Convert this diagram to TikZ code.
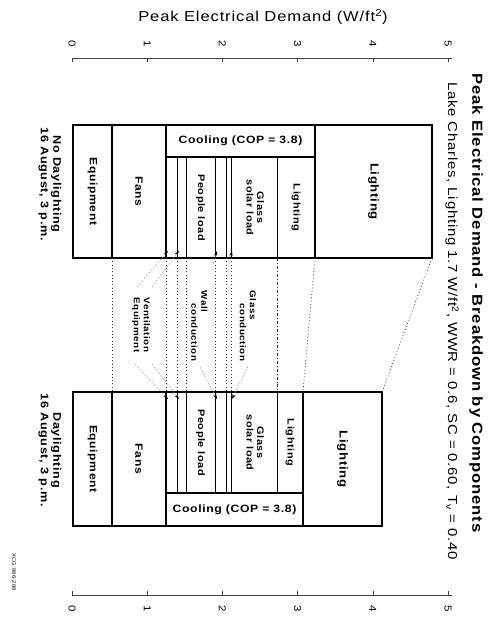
\documentclass[tikz,border=0pt]{standalone}
\usepackage{fontspec}
\setmainfont{Liberation Sans}[FakeStretch=1.15,LetterSpace=6]
\usetikzlibrary{arrows.meta}
\newcommand\rtxt[1]{\rotatebox[origin=c]{-90}{#1}}
\newcommand\fbig{\fontsize{10.5}{12}\selectfont\bfseries}
\newcommand\fmid{\fontsize{9.5}{10.5}\selectfont\bfseries}
\newcommand\fcool{\fontsize{10.6}{12}\selectfont\bfseries}
\newcommand\flt{\fontsize{11.5}{13}\selectfont\bfseries}
\newcommand\flab{\fontsize{8.5}{10}\selectfont\bfseries}
\newcommand\fbar{\fontsize{11}{12.5}\selectfont\bfseries}
\newcommand\fnum{\fontsize{10}{12}\selectfont}
\newcommand\ftitle{\fontsize{14.5}{16}\selectfont\bfseries}
\newcommand\fsub{\fontsize{13}{15}\selectfont}
\newcommand\faxt{\fontsize{14.4}{16}\selectfont}
\newcommand\segbox[7]{%
  \node[segbase,#6,minimum width={(#4-#2)*1pt},minimum height={(#5-#3)*1pt}]
    (#1) at ({(#2+#4)/2},{(#3+#5)/2}) {#7};}
\tikzset{
  segbase/.style={draw, line width=0.7pt, inner sep=0pt, outer sep=0pt},
  heavy/.style={line width=1.2pt},
  frame/.style={line width=1.4pt},
  conn/.style={line width=0.7pt, dash pattern=on 0.9pt off 2.4pt, black!80},
  conndd/.style={line width=0.7pt, dash pattern=on 3pt off 2pt on 0.9pt off 2pt, black!80},
  leader/.style={line width=0.45pt, black!40, dash pattern=on 2pt off 1.5pt,
    -{Stealth[length=5pt,width=3.2pt,black]}},
  rotlabel/.style={rotate=-90, inner sep=0pt},
  axisline/.style={line width=0.6pt, black!75},
}
\begin{document}
\begin{tikzpicture}[x=1pt,y=-1pt]
\useasboundingbox (0,0) rectangle (490,618);

% axis title and axes
\node[font=\faxt] (axtitle) at (263,17) {Peak Electrical Demand (W/ft\textsuperscript{2})};
\draw[axisline] (72,58) -- (452,58);
\draw[axisline] (72,595) -- (452,595);
\foreach \i in {0,...,5}{
  \draw[axisline] ({72+75.2*\i},58) -- ++(0,4);
  \draw[axisline] ({72+75.2*\i},595) -- ++(0,-4);
  \node[rotlabel,font=\fnum] (tt\i) at ({72+75.2*\i},44) {\i};
  \node[rotlabel,font=\fnum] (bt\i) at ({72+75.2*\i},609) {\i};
}

% titles
\node[rotlabel,font=\ftitle] (title) at (476,303) {Peak Electrical Demand - Breakdown by Components};
\node[rotlabel,font=\fsub] (subtitle) at (452,321)
  {Lake Charles, Lighting 1.7 W/ft\textsuperscript{2}, WWR = 0.6, SC = 0.60, T\textsubscript{v} = 0.40};

% top bar (No Daylighting)
\segbox{tVE}{166}{157}{177}{258}{}{}
\segbox{tVV}{177}{157}{186}{258}{}{}
\segbox{tPpl}{186}{157}{215}{258}{}{\rtxt{\fmid People load}}
\segbox{tWall}{215}{157}{226}{258}{}{}
\segbox{tGC}{226}{157}{231}{258}{}{}
\segbox{tGS}{231}{157}{277}{258}{}{\rtxt{\fmid\begin{tabular}{@{}c@{}}Glass\\solar load\end{tabular}}}
\segbox{tLc}{277}{157}{315}{258}{}{\rtxt{\fmid Lighting}}
\segbox{tEq}{73}{125}{112}{258}{heavy}{\rtxt{\fbig Equipment}}
\segbox{tFan}{112}{125}{166}{258}{heavy}{\rtxt{\fbig Fans}}
\segbox{tCool}{166}{125}{315}{157}{heavy}{\fcool Cooling (COP = 3.8)}
\segbox{tLt}{315}{125}{432}{258}{heavy}{\rtxt{\flt Lighting}}
\draw[frame] (tEq.north west) rectangle (tLt.south east);

% bottom bar (Daylighting)
\segbox{bVE}{166}{392}{177}{493}{}{}
\segbox{bVV}{177}{392}{186}{493}{}{}
\segbox{bPpl}{186}{392}{215}{493}{}{\rtxt{\fmid People load}}
\segbox{bWall}{215}{392}{226}{493}{}{}
\segbox{bGC}{226}{392}{231}{493}{}{}
\segbox{bGS}{231}{392}{277}{493}{}{\rtxt{\fmid\begin{tabular}{@{}c@{}}Glass\\solar load\end{tabular}}}
\segbox{bLc}{277}{392}{303}{493}{}{\rtxt{\fmid Lighting}}
\segbox{bEq}{73}{392}{112}{526}{heavy}{\rtxt{\fbig Equipment}}
\segbox{bFan}{112}{392}{166}{526}{heavy}{\rtxt{\fbig Fans}}
\segbox{bCool}{166}{493}{303}{526}{heavy}{\fcool Cooling (COP = 3.8)}
\segbox{bLt}{303}{392}{382}{526}{heavy}{\rtxt{\flt Lighting}}
\draw[frame] (bEq.north west) rectangle (bLt.south east);

% dotted correspondences
\draw[conn] (tEq.south east) -- (bEq.north east);
\draw[conn] (tFan.south east) -- (bFan.north east);
\draw[conn] (tVE.south east) -- (bVE.north east);
\draw[conn] (tVV.south east) -- (bVV.north east);
\draw[conn] (tPpl.south east) -- (bPpl.north east);
\draw[conn] (tWall.south east) -- (bWall.north east);
\draw[conn] (tGC.south east) -- (bGC.north east);
\draw[conndd] (tGS.south east) -- (bGS.north east);
\draw[conn] (tLc.south east) -- (bLc.north east);
\draw[conn] (tLt.south east) -- (bLt.north east);

% middle labels
\node[rotlabel,font=\flab,align=left] (lVent) at (141,325) {Ventilation\\Equipment};
\node[rotlabel,font=\flab,align=left] (lWall) at (199.5,326) {Wall\\\hspace*{13pt}conduction};
\node[rotlabel,font=\flab,align=left] (lGlass) at (248,326) {Glass\\\hspace*{13pt}conduction};

% leader ends
\coordinate (sTV1) at (137,287);
\coordinate (sTV2) at (152,287);
\coordinate (sTW) at (213,264);
\coordinate (sTG) at (229,264);
\coordinate (aTV1) at (168,251);
\coordinate (aTV2) at (179,251);
\coordinate (aTW) at (217,251);
\coordinate (aTG) at (232,251);
\coordinate (sBV1) at (135,364);
\coordinate (sBV2) at (152,364);
\coordinate (sBW) at (200,367);
\coordinate (sBG) at (248,366);
\coordinate (aBV1) at (168,399);
\coordinate (aBV2) at (179,399);
\coordinate (aBW) at (217,399);
\coordinate (aBG) at (232,399);
\draw[leader] (sTV1) -- (aTV1);
\draw[leader] (sTV2) -- (aTV2);
\draw[leader] (sTW) -- (aTW);
\draw[leader] (sTG) -- (aTG);
\draw[leader] (sBV1) -- (aBV1);
\draw[leader] (sBV2) -- (aBV2);
\draw[leader] (sBW) -- (aBW);
\draw[leader] (sBG) -- (aBG);

% bar labels
\node[rotlabel,font=\fbar,align=center] (lNo) at (50,184) {No Daylighting\\16 August, 3 p.m.};
\node[rotlabel,font=\fbar,align=center] (lDay) at (50,450) {Daylighting\\16 August, 3 p.m.};
\node[rotlabel,font=\fontsize{5}{6}\selectfont] (code) at (14,572) {XCG 886-288};
\end{tikzpicture}
\end{document}
